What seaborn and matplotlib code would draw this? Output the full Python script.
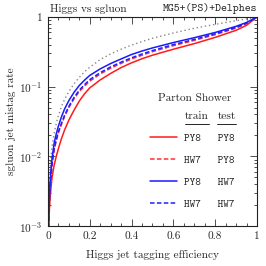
import numpy as np
import pandas as pd
import matplotlib
matplotlib.use("Agg")
import matplotlib.pyplot as plt
from matplotlib.lines import Line2D
import seaborn as sns

# ---- data ----
eff = [0.002, 0.003, 0.005, 0.0075, 0.01, 0.015, 0.02, 0.03, 0.04, 0.05,
       0.065, 0.08, 0.1, 0.125, 0.15, 0.175, 0.2, 0.25, 0.3, 0.35,
       0.4, 0.45, 0.5, 0.6, 0.7, 0.8, 0.9, 0.95, 1.0]
mis_py8_py8 = [0.0005, 0.0008, 0.0012, 0.0018, 0.0024, 0.0036, 0.005, 0.0075, 0.010, 0.0128,
               0.018, 0.024, 0.033, 0.046, 0.062, 0.079, 0.096, 0.125, 0.155, 0.188,
               0.22, 0.252, 0.283, 0.345, 0.415, 0.51, 0.645, 0.76, 1.0]
mis_hw7_py8 = [0.00058, 0.00082, 0.00144, 0.0022, 0.0032, 0.0051, 0.0075, 0.0123, 0.0167, 0.0215,
               0.0288, 0.0374, 0.05, 0.067, 0.085, 0.102, 0.12, 0.152, 0.184, 0.216,
               0.25, 0.283, 0.318, 0.388, 0.462, 0.558, 0.693, 0.80, 1.0]
mis_py8_hw7 = [0.0007, 0.001, 0.0018, 0.0028, 0.004, 0.0065, 0.0095, 0.0155, 0.021, 0.027,
               0.037, 0.048, 0.063, 0.083, 0.104, 0.124, 0.145, 0.18, 0.215, 0.25,
               0.29, 0.325, 0.36, 0.43, 0.505, 0.60, 0.735, 0.835, 1.0]
mis_hw7_hw7 = [0.0006, 0.00085, 0.0015, 0.0023, 0.0033, 0.0053, 0.0078, 0.0128, 0.0174, 0.0224,
               0.030, 0.039, 0.052, 0.07, 0.089, 0.107, 0.126, 0.159, 0.192, 0.225,
               0.26, 0.294, 0.33, 0.402, 0.477, 0.575, 0.71, 0.815, 1.0]
mis_ref = [0.0012, 0.0018, 0.003, 0.0047, 0.0065, 0.010, 0.0138, 0.0215, 0.0295, 0.038,
           0.052, 0.066, 0.085, 0.11, 0.136, 0.163, 0.19, 0.245, 0.295, 0.345,
           0.395, 0.445, 0.495, 0.59, 0.69, 0.785, 0.885, 0.937, 1.0]

train_labels = ["PY8", "HW7", "PY8", "HW7"]
test_labels = ["PY8", "PY8", "HW7", "HW7"]

x_ticks = [0, 0.2, 0.4, 0.6, 0.8, 1.0]
x_ticklabels = ["0", "0.2", "0.4", "0.6", "0.8", "1"]
y_ticks = [1e-3, 1e-2, 1e-1, 1.0]
y_ticklabels = [r"$10^{-3}$", r"$10^{-2}$", r"$10^{-1}$", "1"]

# ---- style ----
sns.set_style("ticks")
plt.rcParams["font.family"] = ["cmr10", "DejaVu Serif"]
plt.rcParams["mathtext.fontset"] = "cm"
plt.rcParams["axes.formatter.use_mathtext"] = True
plt.rcParams["axes.unicode_minus"] = False

FS = 8.1

fig = plt.figure(figsize=(2.66, 2.66), dpi=100)
ax = fig.add_axes([0.180, 0.150, 0.786, 0.786])

series = [
    (mis_py8_py8, "#ff1a1a", "-"),
    (mis_hw7_py8, "#ff3030", (0, (3, 1.5))),
    (mis_py8_hw7, "#1a1aff", "-"),
    (mis_hw7_hw7, "#2020ff", (0, (3, 1.5))),
]

ref_df = pd.DataFrame({"eff": eff, "mis": mis_ref})
sns.lineplot(data=ref_df, x="eff", y="mis", ax=ax, color="#888888",
             linestyle=(0, (1, 2)), linewidth=1.0, sort=False)

handles = []
for (vals, col, ls), tr, te in zip(series, train_labels, test_labels):
    df = pd.DataFrame({"eff": eff, "mis": vals})
    sns.lineplot(data=df, x="eff", y="mis", ax=ax, color=col,
                 linestyle=ls, linewidth=1.1, sort=False)
    handles.append(Line2D([], [], color=col, linestyle=ls, linewidth=1.1))

ax.set_yscale("log")
ax.set_xlim(0, 1)
ax.set_ylim(1e-3, 1)
ax.set_xticks(x_ticks)
ax.set_xticklabels(x_ticklabels)
ax.set_xticks(np.arange(0, 1.0001, 0.05), minor=True)
ax.set_yticks(y_ticks)
ax.set_yticklabels(y_ticklabels)

ax.tick_params(which="both", direction="in", top=True, right=True,
               labelsize=FS, width=0.6, color="#333333")
ax.tick_params(which="major", length=5, pad=4)
ax.tick_params(which="minor", length=2.5)
for sp in ax.spines.values():
    sp.set_linewidth(0.8)
    sp.set_color("#222222")

ax.set_xlabel("Higgs jet tagging efficiency", fontsize=FS, labelpad=6)
ax.set_ylabel("sgluon jet mistag rate", fontsize=FS, labelpad=2)

ax.text(0.01, 1.015, "Higgs vs sgluon", transform=ax.transAxes,
        ha="left", va="bottom", fontsize=FS)
ax.text(1.0, 1.015, "MG5+(PS)+Delphes", transform=ax.transAxes,
        ha="right", va="bottom", fontsize=FS, family="cmtt10")

# legend
labels = [f"{a}   {b}" for a, b in zip(train_labels, test_labels)]
leg = ax.legend(handles, labels, loc="upper left",
                bbox_to_anchor=(0.47, 0.465), frameon=False,
                prop={"family": "cmtt10", "size": FS * 0.95},
                handlelength=2.5, handletextpad=0.6, labelspacing=1.08,
                borderaxespad=0.0)

ax.text(0.703, 0.612, "Parton Shower", transform=ax.transAxes,
        ha="center", va="center", fontsize=FS)
for xc, word in [(0.712, "train"), (0.856, "test")]:
    ax.text(xc, 0.526, word, transform=ax.transAxes, ha="center",
            va="center", fontsize=FS)
    half = 0.058 if word == "train" else 0.045
    ax.add_line(Line2D([xc - half, xc + half], [0.488, 0.488],
                       transform=ax.transAxes, color="black", linewidth=0.6))

fig.savefig("out.png", dpi=100)
